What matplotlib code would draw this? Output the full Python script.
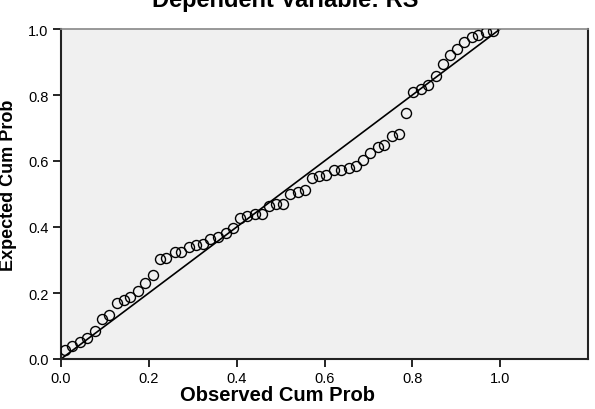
import matplotlib.pyplot as plt
import numpy as np

plt.rcParams["font.family"] = ["Liberation Sans", "DejaVu Sans"]

# observed / expected cumulative probabilities
observed = [0.008, 0.025, 0.043, 0.060, 0.077, 0.093, 0.109, 0.128, 0.143, 0.158,
            0.175, 0.191, 0.210, 0.225, 0.240, 0.259, 0.274, 0.291, 0.308, 0.323,
            0.340, 0.357, 0.375, 0.391, 0.407, 0.424, 0.441, 0.457, 0.473, 0.490,
            0.505, 0.522, 0.539, 0.556, 0.571, 0.587, 0.604, 0.621, 0.638, 0.655,
            0.672, 0.688, 0.704, 0.721, 0.736, 0.753, 0.770, 0.786, 0.802, 0.820,
            0.836, 0.853, 0.869, 0.886, 0.902, 0.918, 0.935, 0.950, 0.967, 0.984]
expected = [0.027, 0.040, 0.052, 0.064, 0.085, 0.122, 0.132, 0.171, 0.180, 0.188,
            0.207, 0.231, 0.255, 0.303, 0.305, 0.323, 0.325, 0.338, 0.345, 0.348,
            0.364, 0.371, 0.381, 0.396, 0.427, 0.432, 0.438, 0.439, 0.465, 0.469,
            0.469, 0.499, 0.505, 0.513, 0.547, 0.554, 0.557, 0.572, 0.574, 0.580,
            0.584, 0.602, 0.625, 0.643, 0.648, 0.676, 0.682, 0.744, 0.809, 0.817,
            0.830, 0.857, 0.895, 0.920, 0.938, 0.960, 0.976, 0.982, 0.991, 0.994]
ticks = [0.0, 0.2, 0.4, 0.6, 0.8, 1.0]

fig = plt.figure(figsize=(5.95, 4.1), dpi=100)
ax = fig.add_axes([61/595, 1 - 360/410, 527/595, 330/410])
ax.set_facecolor('#f0f0f0')

ax.plot([0, 1], [0, 1], color='black', lw=1.2, zorder=2)
ax.plot(observed, expected, linestyle='none', marker='o', markersize=7.2,
        markerfacecolor='none', markeredgecolor='black', markeredgewidth=1.0, zorder=3)

ax.set_xlim(0, 1.2)
ax.set_ylim(0, 1.0)
ax.set_xticks(ticks)
ax.set_yticks(ticks)
ax.set_xticklabels(['%.1f' % t for t in ticks])
ax.set_yticklabels(['%.1f' % t for t in ticks])
ax.tick_params(direction='out', length=6, width=1.2, labelsize=10.5, colors='black', pad=3)

for side in ['left', 'bottom', 'right']:
    ax.spines[side].set_linewidth(1.5)
    ax.spines[side].set_color('#222222')
ax.spines['top'].set_linewidth(1.2)
ax.spines['top'].set_color('#888888')

ax.text(0.411, -0.125, 'Observed Cum Prob', transform=ax.transAxes,
        ha='center', va='baseline', fontsize=14.5, fontweight='bold')
fig.text(8.5/595, 1 - 185/410, 'Expected Cum Prob', rotation=90,
         ha='center', va='center', fontsize=13, fontweight='bold')
fig.text(285/595, 1 - 7/410, 'Dependent Variable: RS', ha='center', va='baseline',
         fontsize=17, fontweight='bold')

fig.savefig('out.png', dpi=100)
